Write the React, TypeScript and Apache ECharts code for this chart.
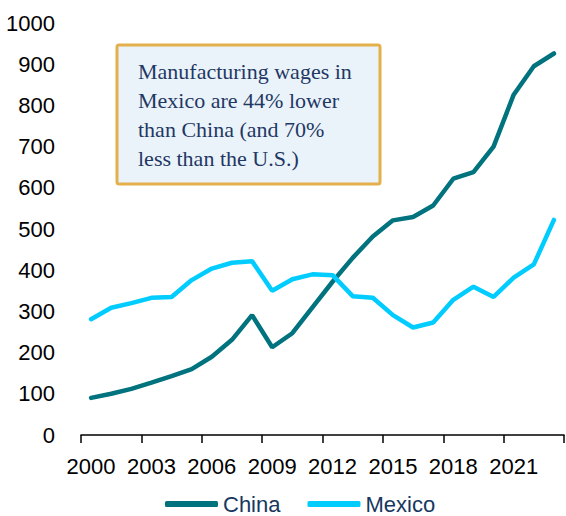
import React, { useEffect, useRef } from "react";
import * as echarts from "echarts";

const years = [
  "2000", "2001", "2002", "2003", "2004", "2005", "2006", "2007", "2008", "2009", "2010", "2011",
  "2012", "2013", "2014", "2015", "2016", "2017", "2018", "2019", "2020", "2021", "2022", "2023",
];
const china = [90, 100, 112, 127, 143, 160, 190, 231, 291, 213, 247, 310, 372, 430, 482, 521, 529, 557, 622, 638, 700, 826, 895, 926];
const mexico = [281, 309, 320, 333, 335, 376, 404, 418, 422, 350, 378, 390, 388, 337, 333, 291, 261, 273, 328, 360, 335, 382, 414, 522];
const yTicks = [0, 1000, 100];
const note = "Manufacturing wages in\nMexico are 44% lower\nthan China (and 70%\nless than the U.S.)";

export default function App() {
  const ref = useRef<HTMLDivElement>(null);
  useEffect(() => {
    document.body.style.margin = "0";
    const chart = echarts.init(ref.current!, undefined, { renderer: "svg" });
    const axisFont = { fontFamily: "Liberation Sans", fontSize: 22, color: "#000" };
    chart.setOption({
      animation: false,
      grid: { left: 81, right: 2, top: 23, bottom: 81 },
      xAxis: {
        type: "category",
        data: years,
        boundaryGap: true,
        axisLine: { lineStyle: { color: "#000", width: 1.5 } },
        axisTick: { show: true, interval: 2, length: 8, lineStyle: { color: "#000", width: 1.5 } },
        axisLabel: { ...axisFont, interval: 2, margin: 20 },
      },
      yAxis: {
        type: "value",
        min: yTicks[0],
        max: yTicks[1],
        interval: yTicks[2],
        splitLine: { show: false },
        axisLine: { show: false },
        axisTick: { show: false },
        axisLabel: { ...axisFont, margin: 26, formatter: (v: number) => String(v) },
      },
      legend: {
        left: 165,
        top: 493,
        padding: 0,
        itemWidth: 53,
        itemHeight: 6,
        itemGap: 27,
        icon: "roundRect",
        textStyle: { fontFamily: "Liberation Sans", fontSize: 22, color: "#17375E", lineHeight: 22 },
        data: ["China", "Mexico"],
      },
      series: [
        {
          name: "China",
          type: "line",
          data: china,
          symbol: "none",
          lineStyle: { color: "#00737F", width: 4.5, cap: "round" },
          itemStyle: { color: "#00737F" },
        },
        {
          name: "Mexico",
          type: "line",
          data: mexico,
          symbol: "none",
          lineStyle: { color: "#00CCFF", width: 4.5, cap: "round" },
          itemStyle: { color: "#00CCFF" },
        },
      ],
      graphic: [
        {
          type: "rect",
          shape: { x: 117, y: 45, width: 263, height: 139, r: 2 },
          style: { fill: "#EBF3FA", stroke: "#E3B04B", lineWidth: 3 },
          z: 10,
        },
        {
          type: "text",
          x: 138,
          y: 57,
          style: {
            text: note,
            font: "22px 'Liberation Serif'",
            fill: "#1F3864",
            lineHeight: 29,
          },
          z: 11,
        },
      ],
    });
    return () => chart.dispose();
  }, []);
  return <div ref={ref} style={{ width: 566, height: 516 }} />;
}
